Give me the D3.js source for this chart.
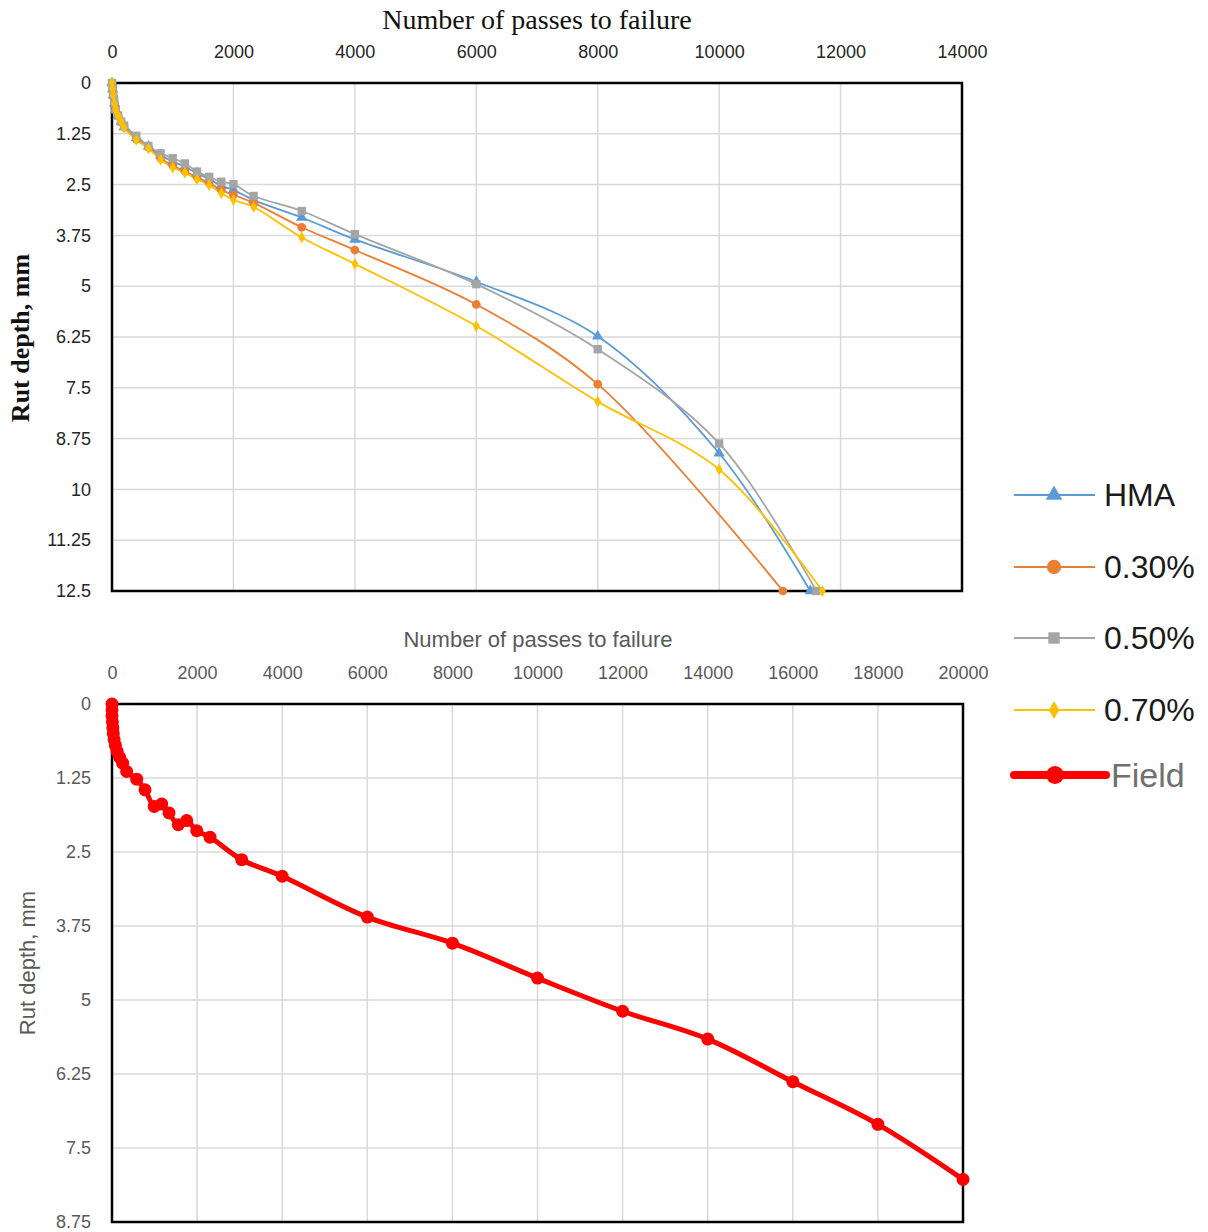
<!DOCTYPE html>
<html>
<head>
<meta charset="utf-8">
<script src="https://cdn.jsdelivr.net/npm/d3@7"></script>
<style>
  body { margin: 0; background: #fff; }
  svg { display: block; }
</style>
</head>
<body>
<svg id="chart" width="1208" height="1232"></svg>
<script>
// lab (top chart) data: passes vs rut depth
const labPasses = [0, 10, 20, 40, 60, 100, 150, 200, 400, 600, 800, 1000, 1200, 1400, 1600, 1800, 2000, 2333, 3125, 4000, 6000, 8000, 10000];
const hmaDepth = [0, 0.15, 0.3, 0.5, 0.65, 0.8, 0.95, 1.08, 1.35, 1.56, 1.78, 1.93, 2.06, 2.22, 2.36, 2.53, 2.63, 2.88, 3.31, 3.85, 4.89, 6.23, 9.11];
const p30Depth = [0, 0.15, 0.3, 0.5, 0.65, 0.8, 0.95, 1.08, 1.38, 1.58, 1.85, 2.03, 2.17, 2.32, 2.46, 2.63, 2.75, 2.95, 3.55, 4.11, 5.45, 7.41, null];
const p50Depth = [0, 0.15, 0.3, 0.5, 0.65, 0.8, 0.95, 1.05, 1.30, 1.55, 1.73, 1.85, 1.98, 2.18, 2.31, 2.43, 2.49, 2.78, 3.15, 3.72, 4.95, 6.55, 8.87];
const p70Depth = [0, 0.15, 0.3, 0.5, 0.65, 0.8, 0.95, 1.1, 1.40, 1.61, 1.89, 2.08, 2.21, 2.37, 2.51, 2.71, 2.88, 3.05, 3.80, 4.45, 5.98, 7.84, 9.51];
// passes at failure (12.5 mm)
const failPasses = [11500, 11050, 11600, 11700];
const failDepth = 12.5;

// field (bottom chart) data
const fieldPasses = [0, 0, 0, 10, 20, 30, 50, 80, 120, 180, 250, 345, 580, 776, 994, 1168, 1340, 1558, 1756, 1991, 2303, 3048, 4000, 6000, 8000, 10000, 12000, 14000, 16000, 18000, 20000];
const fieldDepth = [0, 0.1, 0.2, 0.3, 0.4, 0.5, 0.6, 0.7, 0.8, 0.9, 1.0, 1.14, 1.27, 1.45, 1.73, 1.69, 1.84, 2.04, 1.97, 2.14, 2.25, 2.63, 2.91, 3.60, 4.04, 4.63, 5.19, 5.66, 6.38, 7.10, 8.03];

const seriesNames = ['HMA', '0.30%', '0.50%', '0.70%'];
const topXTicks = d3.range(0, 14001, 2000);
const topYTicks = d3.range(0, 12.51, 1.25);
const botXTicks = d3.range(0, 20001, 2000);
const botYTicks = d3.range(0, 8.76, 1.25);

const svg = d3.select('#chart');
svg.append('rect').attr('width', 1208).attr('height', 1232).attr('fill', '#fff');

const colors = ['#5B9BD5', '#ED7D31', '#A5A5A5', '#FFC000'];
const symbols = [d3.symbolTriangle, d3.symbolCircle, d3.symbolSquare, d3.symbolDiamond];
const symSize = [55, 60, 70, 40];

function panel(opt) {
  const { x, y, xTicks, yTicks, tickFont, tickColor, tickSize } = opt;
  const g = svg.append('g');
  const [x0, x1] = x.range();
  const [y0, y1] = y.range();

  // grid
  g.selectAll('line.vgrid').data(xTicks.slice(1, -1)).enter().append('line')
    .attr('class', 'vgrid')
    .attr('x1', (d) => x(d)).attr('x2', (d) => x(d))
    .attr('y1', y0).attr('y2', y1)
    .attr('stroke', '#d9d9d9').attr('stroke-width', 1.5);
  g.selectAll('line.hgrid').data(yTicks.slice(1, -1)).enter().append('line')
    .attr('class', 'hgrid')
    .attr('x1', x0).attr('x2', x1)
    .attr('y1', (d) => y(d)).attr('y2', (d) => y(d))
    .attr('stroke', '#d9d9d9').attr('stroke-width', 1.5);

  // frame
  g.append('rect')
    .attr('x', x0).attr('y', y0)
    .attr('width', x1 - x0).attr('height', y1 - y0)
    .attr('fill', 'none').attr('stroke', '#000').attr('stroke-width', 2.5);

  // axes (labels only)
  const ax = g.append('g')
    .attr('transform', `translate(0,${y0 - 22})`)
    .call(d3.axisTop(x).tickValues(xTicks).tickSize(0).tickFormat(d3.format('d')));
  const ay = g.append('g')
    .attr('transform', `translate(${x0 - 18},0)`)
    .call(d3.axisLeft(y).tickValues(yTicks).tickSize(0).tickFormat((d) => String(d)));
  [ax, ay].forEach((a) => {
    a.select('.domain').remove();
    a.selectAll('text')
      .attr('font-family', tickFont)
      .attr('font-size', tickSize)
      .attr('fill', tickColor);
  });
  return g;
}

// ---------- top chart ----------
const xTop = d3.scaleLinear().domain([0, 14000]).range([112, 962]);
const yTop = d3.scaleLinear().domain([0, 12.5]).range([83, 591]);
const gTop = panel({
  x: xTop, y: yTop, xTicks: topXTicks, yTicks: topYTicks,
  tickFont: 'Liberation Sans', tickColor: '#262626', tickSize: 18,
});

svg.append('text')
  .attr('x', 537).attr('y', 29)
  .attr('text-anchor', 'middle')
  .attr('font-family', 'Liberation Serif')
  .attr('font-size', 28)
  .attr('fill', '#111')
  .text('Number of passes to failure');
svg.append('text')
  .attr('transform', 'translate(29,338) rotate(-90)')
  .attr('text-anchor', 'middle')
  .attr('font-family', 'Liberation Serif')
  .attr('font-size', 26)
  .attr('font-weight', 'bold')
  .attr('fill', '#111')
  .text('Rut depth, mm');

const depthSets = [hmaDepth, p30Depth, p50Depth, p70Depth];
const labSeries = depthSets.map((depths, i) => {
  const pts = labPasses
    .map((p, j) => ({ p, d: depths[j] }))
    .filter((v) => v.d !== null);
  pts.push({ p: failPasses[i], d: failDepth });
  return pts;
});

const topLine = d3.line()
  .x((v) => xTop(v.p))
  .y((v) => yTop(v.d))
  .curve(d3.curveCatmullRom.alpha(0.5));

labSeries.forEach((pts, i) => {
  gTop.append('path')
    .datum(pts)
    .attr('d', topLine)
    .attr('fill', 'none')
    .attr('stroke', colors[i])
    .attr('stroke-width', 1.8);
});
labSeries.forEach((pts, i) => {
  gTop.selectAll(`path.m${i}`).data(pts).enter().append('path')
    .attr('class', `m${i}`)
    .attr('transform', (v) => `translate(${xTop(v.p)},${yTop(v.d)})`)
    .attr('d', d3.symbol().type(symbols[i]).size(symSize[i]))
    .attr('fill', colors[i]);
});

// ---------- bottom chart ----------
const xBot = d3.scaleLinear().domain([0, 20000]).range([112, 963]);
const yBot = d3.scaleLinear().domain([0, 8.75]).range([704, 1222]);
const gBot = panel({
  x: xBot, y: yBot, xTicks: botXTicks, yTicks: botYTicks,
  tickFont: 'Liberation Sans', tickColor: '#595959', tickSize: 18,
});

svg.append('text')
  .attr('x', 538).attr('y', 647)
  .attr('text-anchor', 'middle')
  .attr('font-family', 'Liberation Sans')
  .attr('font-size', 22)
  .attr('fill', '#595959')
  .text('Number of passes to failure');
svg.append('text')
  .attr('transform', 'translate(35,963) rotate(-90)')
  .attr('text-anchor', 'middle')
  .attr('font-family', 'Liberation Sans')
  .attr('font-size', 22)
  .attr('fill', '#595959')
  .text('Rut depth, mm');

const fieldPts = fieldPasses.map((p, j) => ({ p, d: fieldDepth[j] }));
const botLine = d3.line()
  .x((v) => xBot(v.p))
  .y((v) => yBot(v.d))
  .curve(d3.curveCatmullRom.alpha(0.5));
gBot.append('path')
  .datum(fieldPts)
  .attr('d', botLine)
  .attr('fill', 'none')
  .attr('stroke', '#FF0000')
  .attr('stroke-width', 5)
  .attr('stroke-linejoin', 'round');
gBot.selectAll('circle.field').data(fieldPts).enter().append('circle')
  .attr('class', 'field')
  .attr('cx', (v) => xBot(v.p))
  .attr('cy', (v) => yBot(v.d))
  .attr('r', 6.5)
  .attr('fill', '#FF0000');

// ---------- legend ----------
const legendY = [495, 567, 638, 710];
const legSize = [120, 160, 130, 95];
const leg = svg.append('g');
seriesNames.forEach((name, i) => {
  const row = leg.append('g').attr('transform', `translate(0,${legendY[i]})`);
  row.append('line')
    .attr('x1', 1014).attr('x2', 1095)
    .attr('stroke', colors[i]).attr('stroke-width', 2);
  row.append('path')
    .attr('transform', 'translate(1054,0)')
    .attr('d', d3.symbol().type(symbols[i]).size(legSize[i]))
    .attr('fill', colors[i]);
  row.append('text')
    .attr('x', 1104).attr('y', 0)
    .attr('dy', '0.35em')
    .attr('font-family', 'Liberation Sans')
    .attr('font-size', 32)
    .attr('fill', '#1a1a1a')
    .text(name);
});
const fieldRow = leg.append('g').attr('transform', 'translate(0,775)');
fieldRow.append('line')
  .attr('x1', 1014).attr('x2', 1106)
  .attr('stroke', '#FF0000').attr('stroke-width', 8)
  .attr('stroke-linecap', 'round');
fieldRow.append('circle')
  .attr('cx', 1055).attr('cy', 0).attr('r', 9)
  .attr('fill', '#FF0000');
fieldRow.append('text')
  .attr('x', 1111).attr('y', 0)
  .attr('dy', '0.35em')
  .attr('font-family', 'Liberation Sans')
  .attr('font-size', 34)
  .attr('fill', '#707070')
  .text('Field');
</script>
</body>
</html>
